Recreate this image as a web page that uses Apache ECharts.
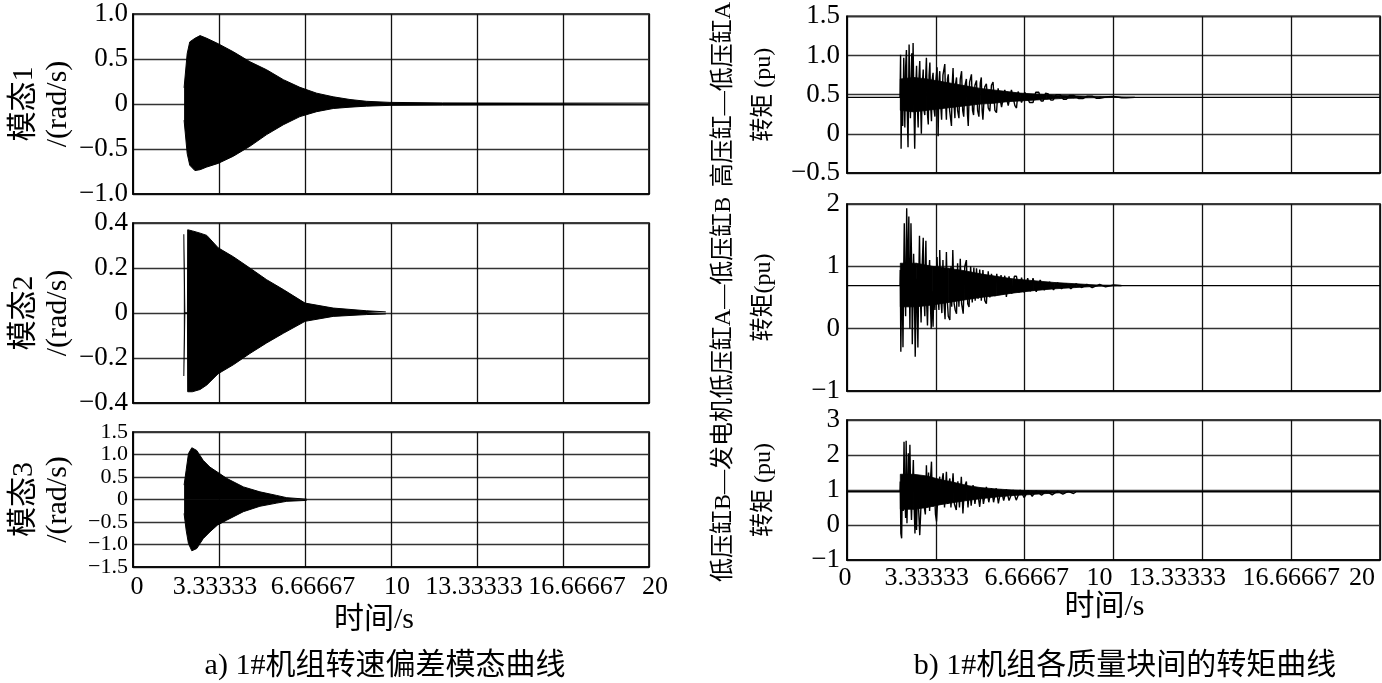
<!DOCTYPE html>
<html><head><meta charset="utf-8">
<script src="https://cdn.jsdelivr.net/npm/echarts@6/dist/echarts.min.js"></script>
<style>html,body{margin:0;padding:0;background:#fff}#c{width:1382px;height:683px}</style>
</head><body><div id="c"></div>
<script>
// ---- tick labels ----
const xTickLabels = ['0','3.33333','6.66667','10','13.33333','16.66667','20'];
const yTicksMode1 = ['−1.0','−0.5','0','0.5','1.0'];
const yTicksMode2 = ['−0.4','−0.2','0','0.2','0.4'];
const yTicksMode3 = ['−1.5','−1.0','−0.5','0','0.5','1.0','1.5'];
const yTicksTorque1 = ['−0.5','0','0.5','1.0','1.5'];
const yTicksTorque2 = ['−1','0','1','2'];
const yTicksTorque3 = ['−1','0','1','2','3'];

// ---- mode curves (envelope of the dense oscillation) ----
const mode1Time  = [1.98, 2.1, 2.2, 2.4, 2.6, 2.86, 3.3, 3.89, 4.53, 5.18, 5.83, 6.47, 7.12, 7.76, 8.41, 9.05, 9.96, 12, 15, 20];
const mode1Upper = [0.18, 0.56, 0.69, 0.73, 0.76, 0.73, 0.67, 0.58, 0.47, 0.38, 0.27, 0.185, 0.12, 0.08, 0.05, 0.03, 0.018, 0.012, 0.01, 0.01];
const mode1Lower = [-0.18, -0.55, -0.68, -0.74, -0.73, -0.70, -0.66, -0.58, -0.47, -0.34, -0.23, -0.14, -0.085, -0.05, -0.035, -0.024, -0.015, -0.012, -0.01, -0.01];

const mode2Time  = [1.97, 2.0, 2.01, 2.11, 2.12, 2.14, 2.3, 2.6, 2.86, 3.3, 3.89, 4.53, 5.18, 5.83, 6.67, 7.76, 9.05, 9.8];
const mode2Upper = [0.35, 0.35, 0.0, 0.0, 0.37, 0.378, 0.365, 0.355, 0.345, 0.29, 0.25, 0.2, 0.148, 0.104, 0.044, 0.022, 0.01, 0.005];
const mode2Lower = [-0.28, -0.28, 0.0, 0.0, -0.35, -0.356, -0.35, -0.34, -0.32, -0.27, -0.23, -0.18, -0.133, -0.09, -0.037, -0.015, -0.007, -0.004];

const mode3Time  = [1.98, 2.06, 2.15, 2.28, 2.47, 2.72, 2.98, 3.27, 3.63, 4.28, 4.92, 5.57, 5.96, 6.73];
const mode3Upper = [0.32, 0.65, 1.02, 1.15, 1.09, 0.87, 0.72, 0.61, 0.47, 0.28, 0.17, 0.09, 0.04, 0.007];
const mode3Lower = [-0.31, -0.68, -0.98, -1.14, -1.09, -0.87, -0.72, -0.57, -0.46, -0.27, -0.15, -0.08, -0.04, -0.02];

// ---- torque curves: spike extrema ----
const torque1Time = [0,1.99,2.01,2.03,2.06,2.09,2.13,2.17,2.20,2.23,2.26,2.29,2.33,2.36,2.38,2.43,2.45,2.48,2.51,2.54,2.58,2.61,2.64,2.67,2.70,2.73,2.76,2.79,2.83,2.86,2.89,2.92,2.95,2.98,3.02,3.05,3.08,3.11,3.14,3.17,3.20,3.23,3.27,3.30,3.34,3.38,3.40,3.42,3.45,3.48,3.52,3.55,3.60,3.67,3.70,3.73,3.77,3.80,3.85,3.92,3.95,3.98,4.02,4.05,4.08,4.11,4.15,4.20,4.25,4.30,4.34,4.38,4.43,4.48,4.52,4.55,4.60,4.67,4.71,4.75,4.80,4.86,4.90,4.95,5.00,5.04,5.07,5.10,5.17,5.23,5.30,5.36,5.42,5.48,5.55,5.61,5.67,5.73,5.80,5.86,5.92,5.98,6.05,6.11,6.17,6.23,6.30,6.36,6.42,6.48,6.55,6.61,6.67,6.73,6.85,6.98,7.08,7.2,7.28,7.36,7.45,7.55,7.65,7.73,7.85,8.0,8.12,8.23,8.35,8.5,8.7,8.85,9.0,9.2,9.35,9.48,9.8,10.0,10.3,10.48,10.8,20];
const torque1Value = [0.466,0.466,1.01,-0.19,0.70,0.10,0.97,0.08,0.85,1.07,0.30,-0.17,1.14,0.50,0.20,1.03,0.30,1.16,0.40,-0.19,0.60,0.87,0.35,0.08,0.70,0.93,0.40,0.00,0.65,0.82,0.30,0.24,0.70,0.97,0.25,0.12,0.75,0.91,0.35,0.16,0.70,0.78,0.30,0.22,0.70,0.85,0.40,-0.03,0.65,0.80,0.35,0.18,0.75,0.89,0.40,0.18,0.70,0.76,0.30,0.10,0.65,0.84,0.35,0.20,0.65,0.72,0.30,0.20,0.70,0.80,0.30,0.22,0.62,0.70,0.25,0.10,0.66,0.76,0.30,0.24,0.62,0.68,0.30,0.22,0.65,0.72,0.30,0.18,0.60,0.64,0.33,0.29,0.62,0.66,0.30,0.27,0.58,0.60,0.34,0.33,0.56,0.58,0.36,0.35,0.56,0.57,0.36,0.33,0.54,0.54,0.40,0.39,0.53,0.53,0.40,0.40,0.53,0.53,0.42,0.42,0.52,0.51,0.43,0.43,0.50,0.50,0.44,0.44,0.49,0.49,0.45,0.45,0.48,0.48,0.455,0.455,0.475,0.478,0.46,0.46,0.466,0.466];

const torque2Time = [0,1.99,2.00,2.02,2.05,2.07,2.10,2.13,2.15,2.18,2.20,2.24,2.26,2.28,2.32,2.34,2.36,2.40,2.43,2.45,2.50,2.53,2.56,2.59,2.62,2.64,2.66,2.69,2.72,2.75,2.78,2.82,2.86,2.89,2.92,2.94,2.96,2.99,3.02,3.06,3.10,3.13,3.16,3.20,3.23,3.27,3.30,3.34,3.38,3.42,3.45,3.48,3.52,3.56,3.60,3.64,3.68,3.73,3.77,3.80,3.86,3.90,3.93,3.97,4.02,4.06,4.11,4.15,4.20,4.25,4.30,4.36,4.42,4.48,4.53,4.58,4.64,4.70,4.76,4.81,4.86,4.92,4.98,5.04,5.10,5.17,5.23,5.30,5.36,5.42,5.48,5.55,5.62,5.70,5.78,5.85,5.92,5.98,6.08,6.18,6.28,6.36,6.45,6.55,6.65,6.78,6.88,6.98,7.1,7.25,7.4,7.6,7.75,7.9,8.05,8.23,8.4,8.6,8.8,9.0,9.2,9.48,9.7,10.0,10.3,20];
const torque2Value = [0.69,0.69,0.94,-0.37,0.60,0.90,-0.30,1.00,1.69,0.60,0.20,1.93,1.20,0.60,1.80,0.80,0.00,1.69,0.90,-0.25,1.20,0.50,-0.45,0.40,0.80,0.20,-0.30,0.70,1.49,0.60,0.10,1.00,1.46,0.50,0.20,1.00,1.41,0.40,0.05,0.80,1.10,0.40,0.00,0.60,0.03,0.90,0.30,0.80,1.15,0.50,0.30,1.26,0.50,0.25,1.10,0.40,0.15,1.23,0.40,0.20,0.14,1.00,0.35,1.26,0.40,0.30,0.24,1.05,0.35,1.12,0.40,0.24,1.00,1.10,0.40,0.35,1.00,0.42,0.98,0.45,0.97,0.48,0.95,0.45,0.94,0.45,0.40,0.92,0.50,0.88,0.89,0.52,0.88,0.55,0.86,0.55,0.85,0.51,0.84,0.56,0.84,0.84,0.58,0.82,0.58,0.81,0.60,0.81,0.59,0.78,0.62,0.75,0.62,0.74,0.64,0.72,0.64,0.72,0.66,0.71,0.66,0.71,0.67,0.70,0.69,0.69];

const torque3Time = [0,1.99,2.00,2.02,2.05,2.08,2.11,2.14,2.17,2.20,2.22,2.25,2.28,2.30,2.33,2.36,2.39,2.42,2.46,2.49,2.52,2.55,2.58,2.61,2.65,2.69,2.73,2.79,2.86,2.90,2.94,2.98,3.02,3.06,3.10,3.14,3.17,3.20,3.23,3.28,3.32,3.36,3.42,3.48,3.52,3.57,3.61,3.66,3.73,3.78,3.82,3.86,3.90,3.94,3.98,4.03,4.10,4.16,4.22,4.29,4.35,4.41,4.48,4.54,4.60,4.66,4.73,4.80,4.88,4.98,5.05,5.12,5.23,5.32,5.42,5.50,5.60,5.68,5.78,5.88,5.98,6.08,6.23,6.35,6.5,6.65,6.8,6.95,7.1,7.3,7.48,7.7,7.9,8.1,8.3,8.5,8.6,20];
const torque3Value = [0.95,0.95,1.24,-0.24,-0.38,1.30,0.40,2.38,0.80,0.20,2.41,0.05,1.20,2.05,0.60,2.29,0.80,0.14,1.20,1.86,0.50,-0.24,1.00,-0.14,1.20,0.40,-0.29,0.80,1.38,0.50,0.30,1.71,0.60,1.50,0.40,1.40,1.81,0.80,0.52,1.00,0.30,0.10,1.00,1.38,0.60,1.30,1.48,0.50,1.52,0.60,1.20,1.33,0.50,1.00,1.48,0.60,0.43,1.25,0.50,1.38,0.33,1.10,1.24,0.50,1.10,0.55,1.14,0.60,1.05,0.52,1.05,0.60,1.09,0.65,1.05,0.65,1.05,0.62,1.02,0.70,1.02,0.70,1.00,0.71,1.00,0.78,0.99,0.82,0.98,0.85,0.97,0.86,0.97,0.88,0.96,0.90,0.95,0.95];

// ---- torque curves: dense oscillation core (envelope) ----
const core1Time  = [2.0, 2.5, 3.0, 3.5, 4.0, 4.5, 5.0, 5.5, 6.0, 6.5, 7.0, 7.5, 8.0, 8.5, 9.0, 9.5, 10.0, 10.8];
const core1Upper = [0.70, 0.72, 0.70, 0.67, 0.64, 0.61, 0.58, 0.56, 0.54, 0.52, 0.51, 0.50, 0.49, 0.485, 0.48, 0.477, 0.474, 0.468];
const core1Lower = [0.30, 0.28, 0.30, 0.32, 0.34, 0.36, 0.38, 0.39, 0.41, 0.42, 0.43, 0.44, 0.45, 0.455, 0.46, 0.462, 0.464, 0.465];

const core2Time  = [2.0, 2.6, 3.2, 3.8, 4.4, 5.0, 5.6, 6.2, 7.0, 7.8, 8.6, 9.4, 10.3];
const core2Upper = [1.05, 1.05, 1.0, 0.97, 0.93, 0.88, 0.84, 0.80, 0.77, 0.74, 0.72, 0.70, 0.695];
const core2Lower = [0.35, 0.35, 0.38, 0.42, 0.46, 0.50, 0.53, 0.57, 0.61, 0.64, 0.66, 0.68, 0.685];

const core3Time  = [2.0, 2.5, 3.0, 3.5, 4.0, 4.5, 5.0, 5.6, 6.2, 6.9, 7.5, 8.6];
const core3Upper = [1.45, 1.45, 1.40, 1.30, 1.22, 1.13, 1.07, 1.03, 1.0, 0.98, 0.97, 0.955];
const core3Lower = [0.45, 0.45, 0.50, 0.58, 0.64, 0.70, 0.75, 0.80, 0.84, 0.87, 0.90, 0.945];

// ---- build ----
const FONT = "'Liberation Serif','Noto Sans CJK SC',serif";
const pairs = (t, v) => t.map((x, i) => [x, v[i]]);

const grids = [
  {left:133, top:14,  width:516, height:180},
  {left:133, top:223, width:516, height:180},
  {left:133, top:432, width:516, height:135},
  {left:847, top:12,  width:533, height:161},
  {left:847, top:204, width:533, height:187},
  {left:847, top:420, width:533, height:140}
].map(g => Object.assign(g, {show:true, borderColor:'#000', borderWidth:1.6, backgroundColor:'#fff'}));

const yDefs = [
  {min:-1,   max:1,   interval:0.5, labels:yTicksMode1,   name:'模态1\n/(rad/s)', fs:30, gap:58, lh:34},
  {min:-0.4, max:0.4, interval:0.2, labels:yTicksMode2,   name:'模态2\n/(rad/s)', fs:30, gap:58, lh:34},
  {min:-1.5, max:1.5, interval:0.5, labels:yTicksMode3,   name:'模态3\n/(rad/s)', fs:30, gap:58, lh:34},
  {min:-0.5, max:1.5, interval:0.5, labels:yTicksTorque1, name:'高压缸—低压缸A\n转矩 (pu)', fs:24, gap:63, lh:40},
  {min:-1,   max:2,   interval:1,   labels:yTicksTorque2, name:'低压缸A—低压缸B\n转矩(pu)', fs:24, gap:63, lh:40},
  {min:-1,   max:3,   interval:1,   labels:yTicksTorque3, name:'低压缸B—发电机\n转矩 (pu)', fs:24, gap:63, lh:40}
];

// horizontal nudges (px) of the bottom tick labels, as laid out in the reference
const nudgeLeftPanel  = [4, -4, 8, 6, -3, 14, 6];
const nudgeRightPanel = [-2, -9, 2, -14, -25, 0, -18];
const richFor = (nudges) => {
  const r = {};
  nudges.forEach((d, k) => {
    r['n' + k] = {fontFamily:FONT, fontSize:26, color:'#000',
      padding: d >= 0 ? [0, 0, 0, 2 * d] : [0, -2 * d, 0, 0]};
  });
  return r;
};

const xAxis = grids.map((g, i) => {
  const bottom = (i === 2 || i === 5);
  return {
    type:'value', gridIndex:i, min:0, max:20, interval:20/6,
    axisLine:{show:true, onZero:false, lineStyle:{color:'#000', width:1.6}},
    axisTick:{show:false},
    splitLine:{show:true, lineStyle:{color:'#111', width:1.3}},
    axisLabel:{show:bottom, margin:(i===2?7:5), color:'#000', fontFamily:FONT, fontSize:26,
      showMinLabel:true, showMaxLabel:true, hideOverlap:false,
      formatter:(v, idx) => '{n' + idx + '|' + xTickLabels[idx] + '}',
      rich: richFor(i === 2 ? nudgeLeftPanel : nudgeRightPanel)},
    name: bottom ? '时间/s' : '', nameLocation:'middle', nameGap:(i===2?38:31),
    nameTextStyle:{color:'#000', fontFamily:FONT, fontSize:30,
      padding: i===2 ? [0, 34, 0, 0] : [0, 18, 0, 0]}
  };
});

const yAxis = yDefs.map((d, i) => ({
  type:'value', gridIndex:i, min:d.min, max:d.max, interval:d.interval,
  axisLine:{show:true, onZero:false, lineStyle:{color:'#000', width:1.6}},
  axisTick:{show:false},
  splitLine:{show:true, lineStyle:{color:'#333', width:1.3}},
  axisLabel:{margin:(i<3?5:7), color:'#000', fontFamily:FONT,
    fontSize:(i===2?22:27), lineHeight:(i===2?20:27),
    showMinLabel:true, showMaxLabel:true, hideOverlap:false,
    formatter:(v, idx) => d.labels[idx]},
  name:d.name, nameLocation:'middle', nameRotate:90, nameGap:d.gap,
  nameTextStyle:{color:'#000', fontFamily:FONT, fontSize:d.fs, lineHeight:d.lh}
}));

const band = (i, t, up, lo) => [
  {type:'line', xAxisIndex:i, yAxisIndex:i, data:pairs(t, up), showSymbol:false, symbol:'none',
   lineStyle:{color:'#000', width:1}, areaStyle:{color:'#000', opacity:1, origin:0}, z:3},
  {type:'line', xAxisIndex:i, yAxisIndex:i, data:pairs(t, lo), showSymbol:false, symbol:'none',
   lineStyle:{color:'#000', width:1}, areaStyle:{color:'#000', opacity:1, origin:0}, z:3}
];

// filled band between two envelopes, one quadrilateral per segment, positioned via api.coord
const coreBand = (i, t, up, lo) => ({
  type:'custom', xAxisIndex:i, yAxisIndex:i, z:3, clip:true,
  data: t.slice(0, -1).map((x, k) => [x, lo[k], up[k], t[k + 1], lo[k + 1], up[k + 1]]),
  encode:{x:[0, 3], y:[1, 2, 4, 5]},
  renderItem:(params, api) => {
    const a = api.coord([api.value(0), api.value(1)]);
    const b = api.coord([api.value(3), api.value(4)]);
    const c = api.coord([api.value(3), api.value(5)]);
    const d = api.coord([api.value(0), api.value(2)]);
    return {type:'polygon', shape:{points:[a, b, c, d]},
      style:{fill:'#000', stroke:'#000', lineWidth:0.8}};
  }
});

const trace = (i, t, v) => ({type:'line', xAxisIndex:i, yAxisIndex:i, data:pairs(t, v),
  showSymbol:false, symbol:'none', lineStyle:{color:'#000', width:1.4}, z:4});

const series = [
  ...band(0, mode1Time, mode1Upper, mode1Lower),
  ...band(1, mode2Time, mode2Upper, mode2Lower),
  ...band(2, mode3Time, mode3Upper, mode3Lower),
  coreBand(3, core1Time, core1Upper, core1Lower),
  coreBand(4, core2Time, core2Upper, core2Lower),
  coreBand(5, core3Time, core3Upper, core3Lower),
  trace(3, torque1Time, torque1Value),
  trace(4, torque2Time, torque2Value),
  trace(5, torque3Time, torque3Value)
];

const chart = echarts.init(document.getElementById('c'), null, {renderer:'canvas'});
chart.setOption({
  animation:false,
  backgroundColor:'#fff',
  textStyle:{fontFamily:FONT},
  title:[
    {text:'a) 1#机组转速偏差模态曲线', left:380, top:646, textAlign:'center',
     textStyle:{fontFamily:FONT, fontSize:30, fontWeight:'normal', color:'#000'}},
    {text:'b) 1#机组各质量块间的转矩曲线', left:1120, top:646, textAlign:'center',
     textStyle:{fontFamily:FONT, fontSize:30, fontWeight:'normal', color:'#000'}}
  ],
  grid:grids, xAxis:xAxis, yAxis:yAxis, series:series
});
</script>
</body></html>
